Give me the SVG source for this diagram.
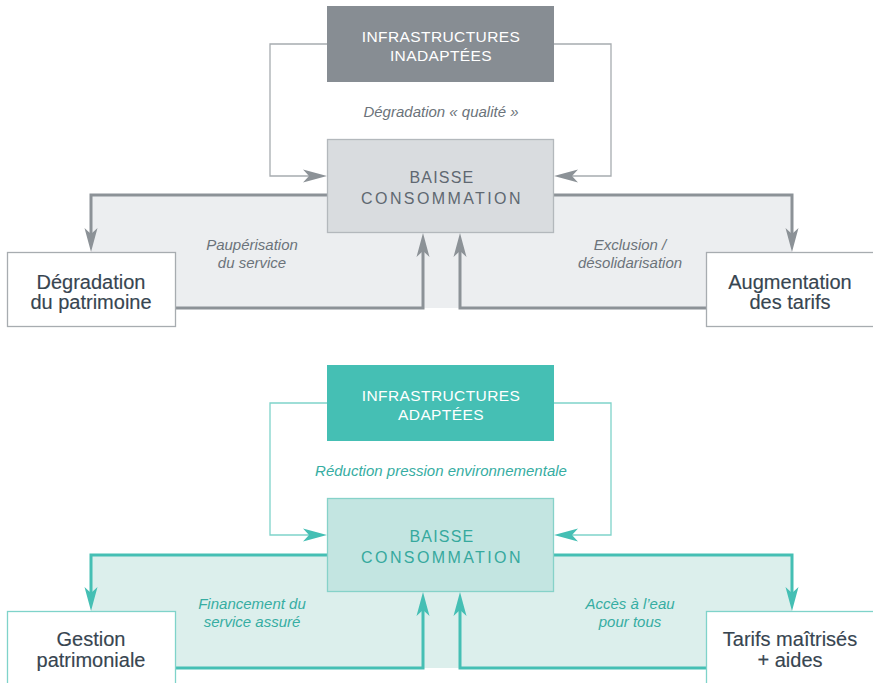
<svg xmlns="http://www.w3.org/2000/svg" width="873" height="683" viewBox="0 0 873 683">
<style>
text{font-family:"Liberation Sans",Arial,sans-serif;text-anchor:middle}
.hd{font-size:15.5px;fill:#ffffff;letter-spacing:0.4px}
.bs{font-size:16px}
.g .bs{fill:#5f6871}
.t .bs{fill:#36a99e}
.lb{font-size:15px;font-style:italic}
.g .lb{fill:#6b737a}
.t .lb{fill:#36ada2}
.nd{font-size:20px;fill:#374550;stroke:#374550;stroke-width:0.15px}
.thin{fill:none;stroke-width:1.3}
.thick{fill:none;stroke-width:3}
.g .thin{stroke:#a7acb0}
.g .thick{stroke:#8c9297}
.t .thin{stroke:#7fd3ca}
.t .thick{stroke:#45bfb4}
</style>
<defs>
<marker id="ag" markerUnits="userSpaceOnUse" markerWidth="30" markerHeight="20" refX="0" refY="0" orient="auto" overflow="visible"><path d="M10,0 L-14,-6.5 L-8,0 L-14,6.5 Z" fill="#8c9297"/></marker>
<marker id="at" markerUnits="userSpaceOnUse" markerWidth="30" markerHeight="20" refX="0" refY="0" orient="auto" overflow="visible"><path d="M10,0 L-14,-6.5 L-8,0 L-14,6.5 Z" fill="#45bfb4"/></marker>
</defs>

<g class="g" id="top">
<polygon points="91,195 792,195 792,308 91,308" fill="#eceef0"/>
<g id="connectors-top">
<path class="thin" d="M327,44 H270 V176 H317" marker-end="url(#ag)"/>
<path class="thin" d="M554,44 H611 V176 H564" marker-end="url(#ag)"/>
<path class="thick" d="M327,195 H91 V242" marker-end="url(#ag)"/>
<path class="thick" d="M554,195 H792 V242" marker-end="url(#ag)"/>
<path class="thick" d="M176,308 H423 V243" marker-end="url(#ag)"/>
<path class="thick" d="M706,308 H460 V243" marker-end="url(#ag)"/>
</g>
<g id="infra-inadaptees">
<rect x="327" y="6" width="227" height="76" fill="#878d93"/>
<text class="hd" x="441" y="42">INFRASTRUCTURES</text>
<text class="hd" x="441" y="61">INADAPTÉES</text>
</g>
<g id="baisse-top">
<rect x="327.5" y="139.5" width="226" height="93" fill="#d9dcdf" stroke="#b3b8bc" stroke-width="1.3"/>
<text class="bs" x="442" y="183" style="letter-spacing:1.2px">BAISSE</text>
<text class="bs" x="442" y="204" style="letter-spacing:2.4px">CONSOMMATION</text>
</g>
<g id="degradation">
<rect x="7.5" y="252.5" width="168" height="74" fill="#ffffff" stroke="#a7acb0" stroke-width="1.3"/>
<text class="nd" x="91" y="289">Dégradation</text>
<text class="nd" x="91" y="309">du patrimoine</text>
</g>
<g id="augmentation">
<rect x="706.5" y="252.5" width="170" height="74" fill="#ffffff" stroke="#a7acb0" stroke-width="1.3"/>
<text class="nd" x="790" y="289">Augmentation</text>
<text class="nd" x="790" y="309">des tarifs</text>
</g>
<text class="lb" x="441" y="117">Dégradation « qualité »</text>
<text class="lb" x="252" y="250">Paupérisation</text>
<text class="lb" x="252" y="268">du service</text>
<text class="lb" x="630" y="250">Exclusion /</text>
<text class="lb" x="630" y="268">désolidarisation</text>
</g>

<g class="t" id="bottom">
<polygon points="91,555 792,555 792,668 91,668" fill="#dcefec"/>
<g id="connectors-bottom">
<path class="thin" d="M327,403 H270 V535 H317" marker-end="url(#at)"/>
<path class="thin" d="M554,403 H611 V535 H564" marker-end="url(#at)"/>
<path class="thick" d="M327,555 H91 V601" marker-end="url(#at)"/>
<path class="thick" d="M554,555 H792 V601" marker-end="url(#at)"/>
<path class="thick" d="M176,668 H423 V602" marker-end="url(#at)"/>
<path class="thick" d="M706,668 H460 V602" marker-end="url(#at)"/>
</g>
<g id="infra-adaptees">
<rect x="327" y="365" width="227" height="76" fill="#45bfb4"/>
<text class="hd" x="441" y="401">INFRASTRUCTURES</text>
<text class="hd" x="441" y="420">ADAPTÉES</text>
</g>
<g id="baisse-bottom">
<rect x="327.5" y="498.5" width="226" height="93" fill="#c3e5e1" stroke="#86d2c9" stroke-width="1.3"/>
<text class="bs" x="442" y="542" style="letter-spacing:1.2px">BAISSE</text>
<text class="bs" x="442" y="563" style="letter-spacing:2.4px">CONSOMMATION</text>
</g>
<g id="gestion">
<rect x="7.5" y="611.5" width="168" height="80" fill="#ffffff" stroke="#7fd3ca" stroke-width="1.3"/>
<text class="nd" x="91" y="646">Gestion</text>
<text class="nd" x="91" y="667">patrimoniale</text>
</g>
<g id="tarifs">
<rect x="706.5" y="611.5" width="170" height="80" fill="#ffffff" stroke="#7fd3ca" stroke-width="1.3"/>
<text class="nd" x="790" y="646">Tarifs maîtrisés</text>
<text class="nd" x="790" y="667">+ aides</text>
</g>
<text class="lb" x="441" y="476">Réduction pression environnementale</text>
<text class="lb" x="252" y="609">Financement du</text>
<text class="lb" x="252" y="627">service assuré</text>
<text class="lb" x="630" y="609">Accès à l’eau</text>
<text class="lb" x="630" y="627">pour tous</text>
</g>
</svg>
